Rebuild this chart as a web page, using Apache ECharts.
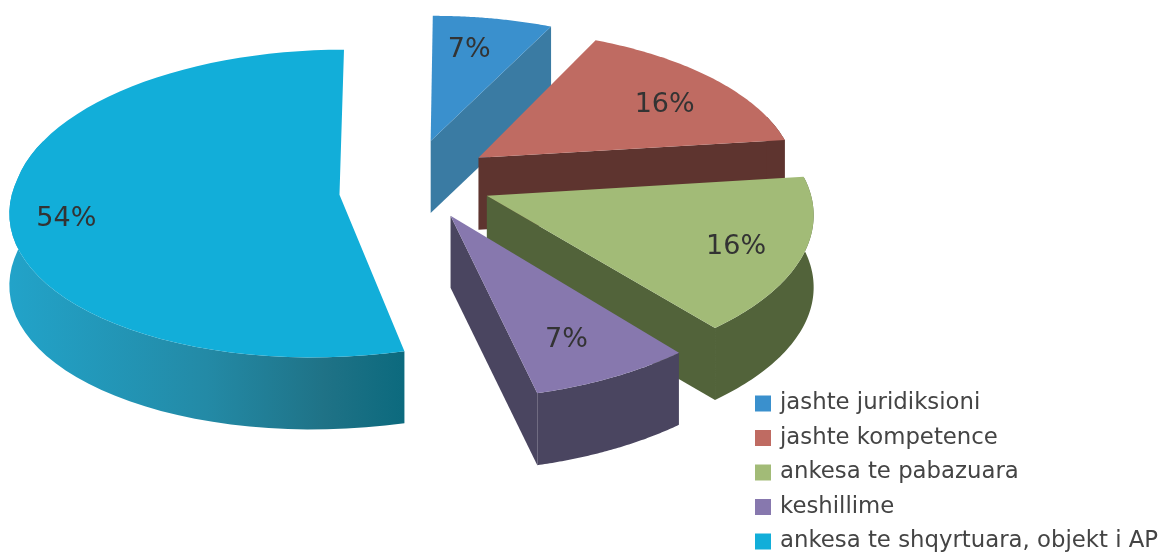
<!DOCTYPE html>
<html>
<head>
<meta charset="utf-8">
<style>html,body{margin:0;padding:0;background:#fff}#c{width:1163px;height:554px;filter:blur(0.6px)}</style>
<script src="https://cdn.jsdelivr.net/npm/echarts@6/dist/echarts.min.js"></script>
</head>
<body>
<div id="c"></div>
<script>
// data
const categories = ['jashte juridiksioni', 'jashte kompetence', 'ankesa te pabazuara', 'keshillime', 'ankesa te shqyrtuara, objekt i AP'];
const values = [7, 16, 16, 7, 54];

// styling
const topColors = ['#3a90cd', '#bf6b62', '#a2bb77', '#8778ae', '#12aed9'];
const wallColors = ['#3a7ba3', '#5e342f', '#52633a', '#4a4560', '#1f8fae'];
const outerWallGradients = [
  null, null, null, null,
  [[0, '#22a3c9'], [0.5, '#238aa6'], [0.8, '#1f7286'], [1, '#0c6a7e']]
];

// layout of the 3D projection (explosion offsets per slice, in pie-plane units)
const explodeX = [30, 79, 87, 52, -63];
const explodeY = [86, 48, -33, -74, -8];
const apexNudgeX = [0, 0, 0, 0, 3];
const apexNudgeY = [0, 0, 0, 0, 11];
const backVanishX = [50, 50, 50, 50, 0];
const labelFraction = [0.76, 0.72, 0.8, 0.73, 0.83];
const labelNudgeX = [-10, 14, -1, 1, 0];
const labelNudgeY = [5, 5, 4, 11, 19];
const CX = 400, CY = 180, R = 320, TILT = 0.47, PERSP = 2500, X0_FRONT = 100, DEPTH = 72, STEPS = 64;

const total = values.reduce((a, b) => a + b, 0);
function project(index, x, y, z) {
  const s = PERSP / (PERSP + y);
  const x0 = y < 0 ? X0_FRONT : backVanishX[index];
  return [CX + x0 + (x - x0) * s, CY - s * TILT * y + z];
}

function renderSlice(index) {
  return function (params, api) {
    const v = api.value(0);
    let before = 0;
    for (let i = 0; i < index; i++) before += values[i];
    const a0 = before / total * 2 * Math.PI;
    const a1 = (before + v) / total * 2 * Math.PI;
    const ex = explodeX[index], ey = explodeY[index];
    const rim = (a, r, z) => project(index, ex + r * Math.sin(a), ey + r * Math.cos(a), z);
    const topArc = [], frontTop = [], frontBot = [];
    for (let i = 0; i <= STEPS; i++) {
      const a = a0 + (a1 - a0) * i / STEPS;
      topArc.push(rim(a, R, 0));
      if (Math.cos(a) < 0.3) {           // only the part of the rim that faces the viewer
        frontTop.push(rim(a, R, 0));
        frontBot.push(rim(a, R, DEPTH));
      }
    }
    const apex = rim(0, 0, 0);
    const apexTop = [apex[0] + apexNudgeX[index], apex[1] + apexNudgeY[index]];
    const apexBot = [apexTop[0], apexTop[1] + DEPTH];
    const wall = wallColors[index];
    const wallFill = outerWallGradients[index]
      ? new echarts.graphic.LinearGradient(0, 0, 1, 0, outerWallGradients[index].map(p => ({ offset: p[0], color: p[1] })))
      : wall;
    const children = [];
    if (a1 < Math.PI) {                  // cut face that turns towards the viewer
      children.push({ type: 'polygon', shape: { points: [apexTop, rim(a1, R, 0), rim(a1, R, DEPTH), apexBot] }, style: { fill: wall } });
    }
    if (frontTop.length > 1) {
      children.push({ type: 'polygon', shape: { points: frontTop.concat(frontBot.reverse()) }, style: { fill: wallFill } });
    }
    children.push({ type: 'polygon', shape: { points: [apexTop].concat(topArc) }, style: { fill: topColors[index] } });
    const lp = rim((a0 + a1) / 2, R * labelFraction[index], 0);
    children.push({ type: 'text', style: { x: lp[0] + labelNudgeX[index], y: lp[1] + labelNudgeY[index], text: Math.round(v / total * 100) + '%', fill: '#333', font: '27px "DejaVu Sans"', textAlign: 'center', textVerticalAlign: 'middle' } });
    return { type: 'group', children };
  };
}

const chart = echarts.init(document.getElementById('c'), null, { renderer: 'canvas' });
chart.setOption({
  animation: false,
  backgroundColor: '#fff',
  legend: {
    orient: 'vertical', left: 755, top: 392,
    itemWidth: 16, itemHeight: 16, itemGap: 11.5, padding: 0,
    icon: 'rect',
    textStyle: { fontFamily: 'DejaVu Sans', fontSize: 22.8, color: '#444', padding: [0, 0, 0, 4] },
    data: categories
  },
  series: categories.map((name, i) => ({
    type: 'custom',
    name,
    coordinateSystem: 'none',
    silent: true,
    z: i + 1,
    itemStyle: { color: topColors[i] },
    renderItem: renderSlice(i),
    data: [[values[i]]]
  }))
});
</script>
</body>
</html>
